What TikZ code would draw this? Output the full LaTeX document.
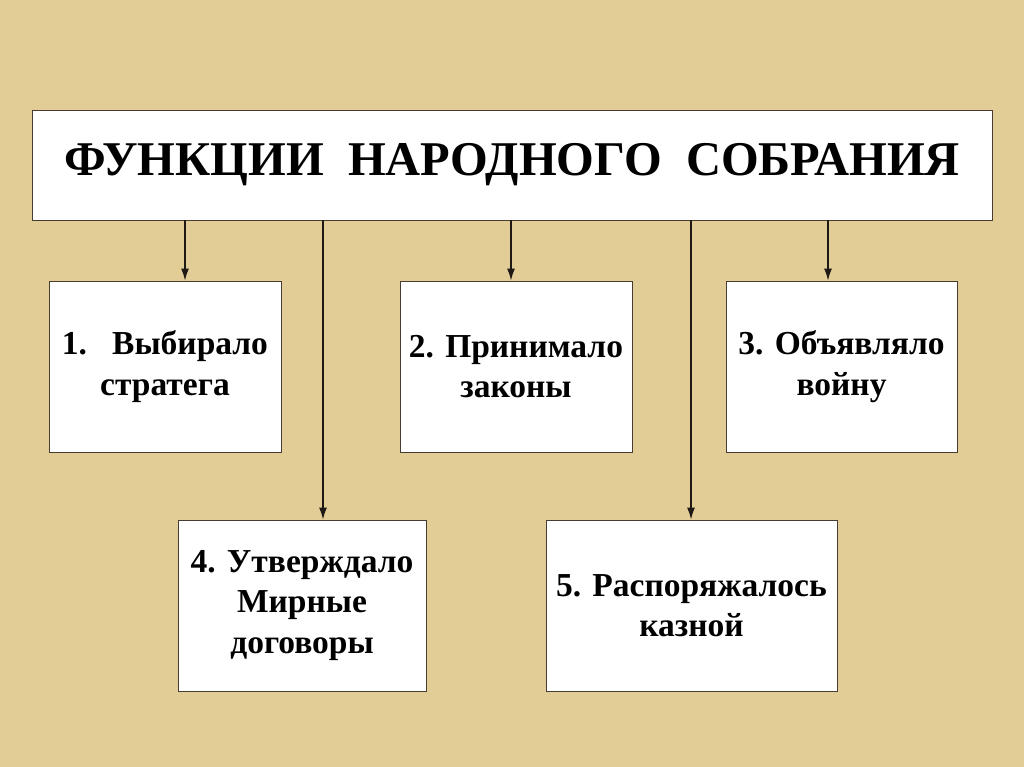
\documentclass[tikz,border=0pt]{standalone}
\usepackage{fontspec}
\setmainfont{Liberation Serif}
\usetikzlibrary{arrows.meta, positioning}
\definecolor{Papyrus}{RGB}{226, 205, 150}
\definecolor{BoxLine}{RGB}{70, 60, 50}
\definecolor{ArrowDark}{RGB}{30, 25, 20}

\begin{document}
\begin{tikzpicture}[
    x=1pt, y=-1pt,
    title/.style={rectangle, draw=BoxLine, fill=white, line width=0.8pt, minimum width=960pt, minimum height=110pt, font=\fontsize{48.5}{58}\selectfont\bfseries},
    func/.style={rectangle, draw=BoxLine, fill=white, line width=0.8pt, minimum height=171pt, align=center, font=\fontsize{33.5}{40.5}\selectfont\bfseries},
    arrow/.style={-{Latex[length=12pt, width=8pt]}, line width=1.4pt, ArrowDark}
  ]
    \fill[Papyrus] (0,0) rectangle (1024,767);
    \useasboundingbox (0,0) rectangle (1024,767);

    \node[title] (head) at (512,165) {ФУНКЦИИ\ \ НАРОДНОГО\ \ СОБРАНИЯ};
    \node[func, minimum width=232pt] (f1) at (165,366.5) {1.\ \ \ Выбирало\\стратега};
    \node[func, minimum width=232pt] (f2) at (516,366.5) {2. Принимало\\законы};
    \node[func, minimum width=231pt] (f3) at (841.5,366.5) {3. Объявляло\\войну};
    \node[func, minimum width=248pt] (f4) at (302,605.5) {4. Утверждало\\Мирные\\договоры};
    \node[func, minimum width=291pt] (f5) at (691.5,605.5) {5. Распоряжалось\\казной};

    \draw[arrow] (head.south -| 185,0) -- (f1.north -| 185,0);
    \draw[arrow] (head.south -| 323,0) -- (f4.north -| 323,0);
    \draw[arrow] (head.south -| 511,0) -- (f2.north -| 511,0);
    \draw[arrow] (head.south -| 691,0) -- (f5.north -| 691,0);
    \draw[arrow] (head.south -| 828,0) -- (f3.north -| 828,0);
  \end{tikzpicture}
\end{document}
